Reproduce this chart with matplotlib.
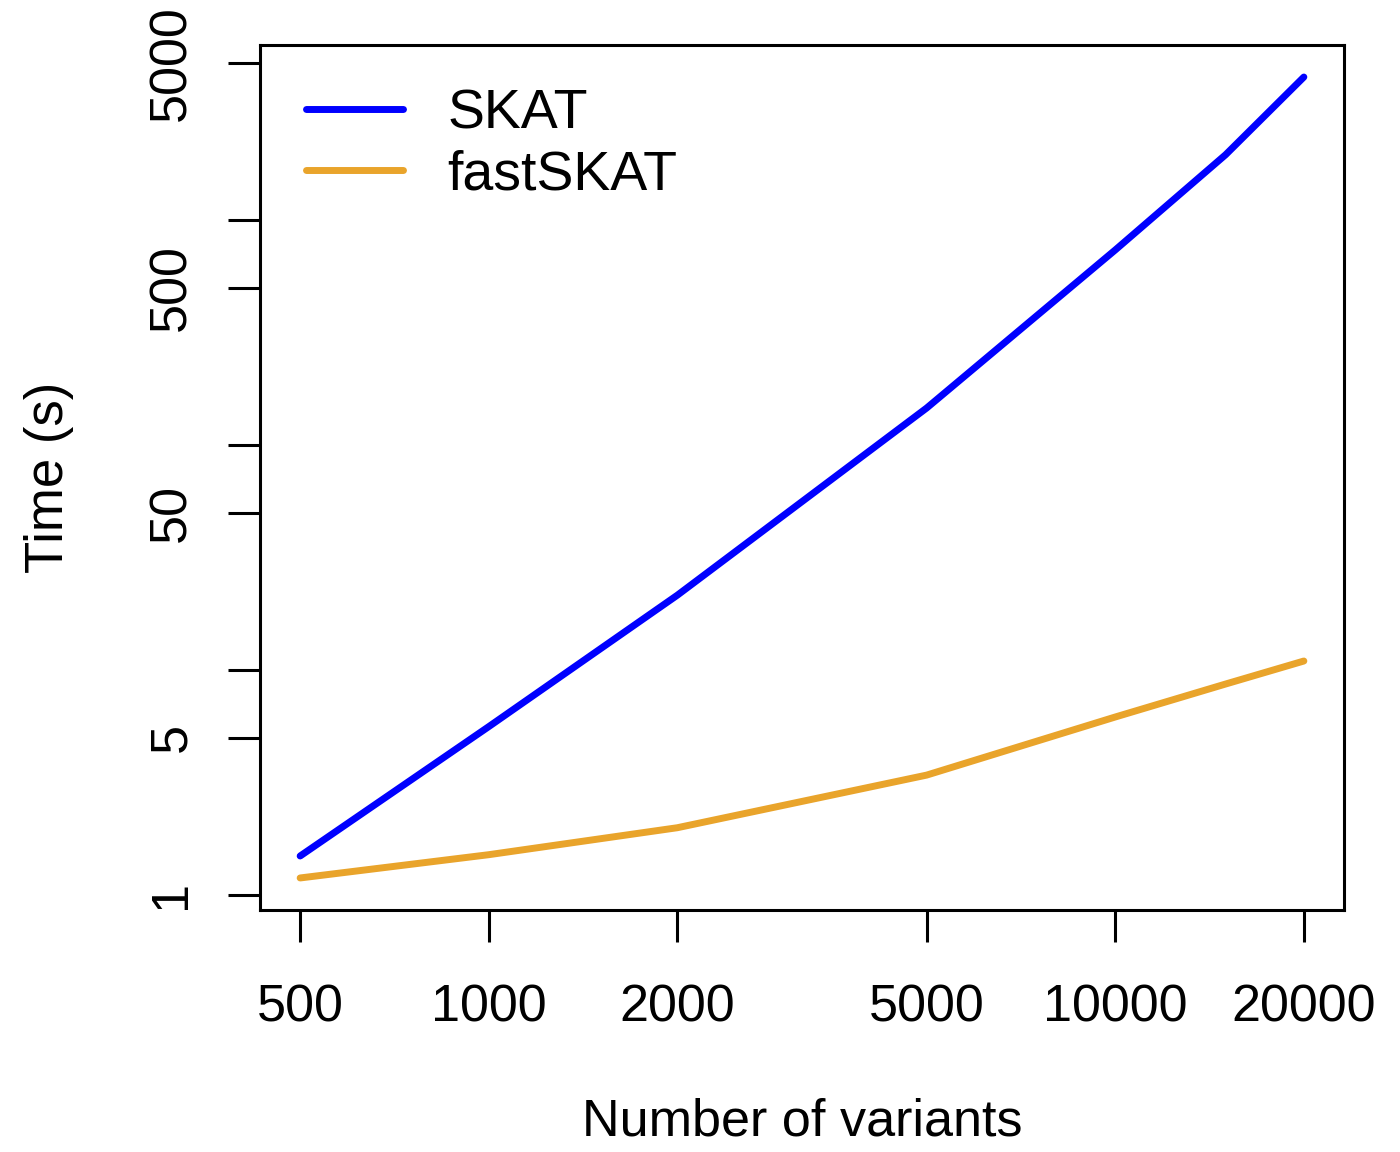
import numpy as np
import matplotlib
matplotlib.use("Agg")
import matplotlib.pyplot as plt
from matplotlib.ticker import FixedLocator, NullLocator, FixedFormatter

plt.rcParams['font.family'] = ['Liberation Sans', 'DejaVu Sans']

variants = [500, 1000, 2000, 5000, 10000, 15000, 20000]
skat = [1.49, 5.6, 21.5, 146, 736, 1950, 4320]
fastskat = [1.19, 1.51, 1.99, 3.41, 6.18, 8.66, 10.96]

x_ticks = [500, 1000, 2000, 5000, 10000, 20000]
x_ticklabels = ["500", "1000", "2000", "5000", "10000", "20000"]
y_ticks = [1, 5, 10, 50, 100, 500, 1000, 5000]
y_ticklabels = ["1", "5", "", "50", "", "500", "", "5000"]

blue = "#0000FF"
orange = "#E9A42B"

fig = plt.figure(figsize=(14, 11.52), dpi=100)
ax = fig.add_axes([260/1400, 242/1152, 1084/1400, 865/1152])

ax.plot(variants, skat, color=blue, lw=5, solid_capstyle='round', solid_joinstyle='round', label="SKAT")
ax.plot(variants, fastskat, color=orange, lw=5, solid_capstyle='round', solid_joinstyle='round', label="fastSKAT")
ax.set_xscale('log')
ax.set_yscale('log')

# R-style 4% axis extension
lx = np.log10([min(variants), max(variants)])
dx = (lx[1] - lx[0]) * 0.04
ax.set_xlim(10**(lx[0]-dx), 10**(lx[1]+dx))
ally = np.concatenate([skat, fastskat])
ly = np.log10([ally.min(), ally.max()])
dy = (ly[1] - ly[0]) * 0.04
ax.set_ylim(10**(ly[0]-dy), 10**(ly[1]+dy))

ax.xaxis.set_major_locator(FixedLocator(x_ticks))
ax.xaxis.set_major_formatter(FixedFormatter(x_ticklabels))
ax.xaxis.set_minor_locator(NullLocator())
ax.yaxis.set_major_locator(FixedLocator(y_ticks))
ax.yaxis.set_major_formatter(FixedFormatter(y_ticklabels))
ax.yaxis.set_minor_locator(NullLocator())

for s in ax.spines.values():
    s.set_linewidth(2.2)
ax.tick_params(axis='both', length=23, width=2.2, labelsize=37.5, direction='out')
ax.tick_params(axis='x', pad=30)
ax.tick_params(axis='y', pad=23)
for lab in ax.get_yticklabels():
    lab.set_rotation(90)
    lab.set_va('center')

ax.set_xlabel("Number of variants", fontsize=37.5, labelpad=47)
ax.set_ylabel("Time (s)", fontsize=38, labelpad=53)

leg = ax.legend(loc='upper left', frameon=False, fontsize=40, handlelength=1.75,
                handletextpad=0.8, labelspacing=0.17, borderaxespad=0, borderpad=0,
                bbox_to_anchor=(0.042, 0.950))

fig.savefig("out.png", dpi=100, facecolor='white')
